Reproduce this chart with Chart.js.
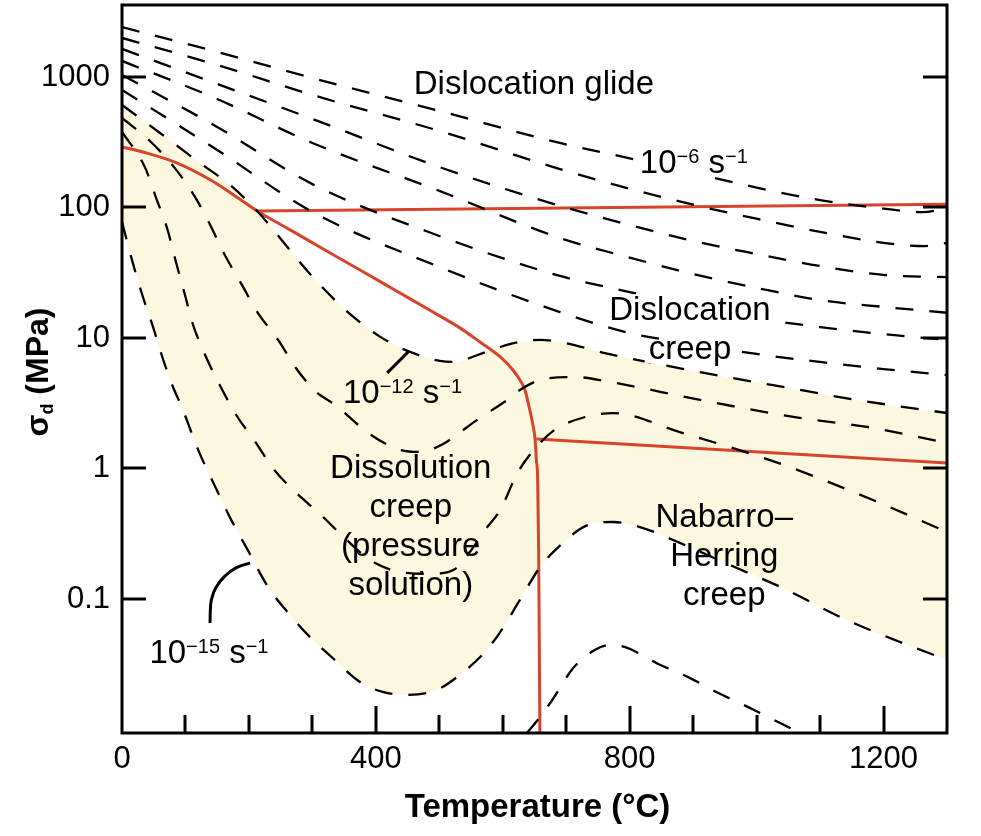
<!DOCTYPE html>
<html>
<head>
<meta charset="utf-8">
<script src="https://cdn.jsdelivr.net/npm/chart.js@4.4.1/dist/chart.umd.min.js"></script>
<style>
  html, body { margin: 0; padding: 0; background: #fff; }
</style>
</head>
<body>
<canvas id="chart" width="981" height="836"></canvas>
<script>
// ===== DEFORMATION MECHANISM MAP =====
// points are [temperature in °C, differential stress in MPa]

const xTicksMajor = [0, 400, 800, 1200];
const yTicks = [0.1, 1, 10, 100, 1000];
const yMin = 0.0094, yMax = 3560;

// strain-rate contours, 10^-6 ... 10^-16 s^-1
const rate6  = [[0,2415],[150,1556],[300,982],[500,549],[690,312],[800,238],[900,184],[1000,142],[1100,114],[1200,98],[1262,92],[1300,99]];
const rate7  = [[0,1991],[150,1236],[300,728],[500,386],[690,197],[800,139],[900,105],[1000,82],[1100,65],[1200,53.5],[1265,50.6],[1300,53.5]];
const rate8  = [[0,1640],[150,884],[300,477],[500,204],[690,103],[800,73.4],[900,55.4],[1000,44],[1100,35.6],[1200,30.4],[1300,29.3]];
const rate9  = [[0,1327],[150,678],[300,312],[500,134],[690,58.4],[800,41.3],[900,30.9],[1000,24.2],[1100,19.5],[1200,17.3],[1300,15.6]];
const rate10 = [[0,1036],[150,414],[300,151],[500,60.5],[690,29.9],[800,22.5],[900,17.6],[1000,14.2],[1100,12.1],[1200,10.7],[1300,9.66]];
const rate11 = [[0,795],[150,276],[300,92.4],[500,35],[690,15.8],[800,10.9],[900,9.0],[1000,7.54],[1100,6.55],[1200,5.78],[1300,5.2]];
const rate12 = [[0,610],[60,372],[123,219],[170,149],[213,94],[249,58.4],[280,38.2],[312,25.5],[359,15.3],[407,10.2],[454,7.82],[501,6.67],[525,6.55],[556,7.28],[596,8.53],[627,9.32],[659,9.66],[698,9.15],[761,7.67],[911,5.48],[1068,4.0],[1158,3.35],[1300,2.66]];
const rate13 = [[0,485],[44,323],[83,201],[118,114],[139,73.4],[162,43.2],[189,25.5],[214,15.6],[246,9.66],[274,5.89],[306,3.86],[336,3.07],[388,1.87],[438,1.39],[470,1.34],[506,1.54],[533,1.9],[564,2.44],[607,3.35],[627,4.0],[659,4.76],[714,5.02],[761,4.68],[911,3.35],[1068,2.44],[1174,2.08],[1300,1.57]];
const rate14 = [[0,379],[36,204],[55,114],[71,69.6],[85,38.2],[98,22.5],[112,12.6],[131,7.41],[154,4.36],[180,2.57],[208,1.65],[240,0.975],[273,0.661],[312,0.448],[351,0.293],[391,0.199],[438,0.161],[485,0.156],[525,0.17],[548,0.229],[572,0.338],[596,0.481],[624,0.94],[659,1.57],[684,2.01],[730,2.48],[774,2.66],[879,1.9],[1021,1.16],[1089,0.877],[1194,0.545],[1300,0.326]];
const rate15 = [[0,77.5],[17,37.6],[33,20.6],[49,12.1],[60,8.09],[76,4.76],[96,2.81],[120,1.39],[147,0.722],[173,0.396],[199,0.233],[230,0.124],[262,0.0782],[296,0.0512],[332,0.0353],[375,0.0231],[411,0.0194],[449,0.0184],[496,0.0201],[536,0.0271],[572,0.0393],[596,0.0558],[627,0.0983],[659,0.176],[695,0.269],[730,0.362],[774,0.389],[816,0.356],[879,0.269],[958,0.182],[1037,0.124],[1142,0.069],[1226,0.0468],[1300,0.0341]];
const rate16 = [[638,0.0094],[659,0.0125],[679,0.0171],[711,0.0296],[745,0.0406],[769,0.0444],[793,0.0428],[845,0.0318],[892,0.0252],[939,0.0191],[986,0.0149],[1034,0.0114],[1068,0.0094]];

// field boundaries (red)
const boundCurve = [[0,291],[33,266],[87,219],[139,163],[181,120],[213,94],[265,67.3],[317,48.1],[375,33.2],[438,22.1],[490,15.8],[533,11.9],[564,9.32],[596,7.15],[616,5.69],[627,4.76],[635,4.0],[640,3.18],[646,2.35],[651,1.65],[653,1.16],[655,0.817],[656.5,0.237],[657.5,0.0485],[658.5,0.0094]];
const boundGlide = [[213,94],[1300,106]];
const boundNH    = [[653,1.68],[1300,1.10]];

// leader lines for the contour labels
const leader12 = [[418,5.4],[451,7.82]];
const leader15 = [[138.7,0.0655],[139.2,0.0824],[141.8,0.102],[149.7,0.126],[162.3,0.15],[179.6,0.173],[201.7,0.189]];

// text on the map: anchor = [°C, MPa] of the first baseline (centre)
const notes = [
  { lines: ['Dislocation glide'], at: [649, 741] },
  { exp: '\u22126', at: [901, 184], knock: true },
  { lines: ['Dislocation', 'creep'], at: [895, 13.7], knock: true },
  { exp: '\u221212', at: [442, 3.18] },
  { lines: ['Dissolution', 'creep', '(pressure', 'solution)'], at: [455, 0.846] },
  { lines: ['Nabarro\u2013', 'Herring', 'creep'], at: [949, 0.356] },
  { exp: '\u221215', at: [137, 0.0323] }
];

const FONT = '"Liberation Sans", Arial, Helvetica, sans-serif';
const RED = '#d6442c';
const CREAM = '#fcf8e0';
const LINE_GAP = 39;

const pts = arr => arr.map(p => ({ x: p[0], y: p[1] }));

function dashed(arr, extra) {
  return Object.assign({
    data: pts(arr), borderColor: '#000', borderWidth: 2.3, borderDash: [18, 16],
    pointRadius: 0, cubicInterpolationMode: 'monotone', fill: false, knock: true
  }, extra || {});
}
function solid(arr, color, width, smooth) {
  return {
    data: pts(arr), borderColor: color, borderWidth: width, pointRadius: 0,
    cubicInterpolationMode: smooth ? 'monotone' : 'default', tension: 0, fill: false
  };
}

function font(sup, bold) { return (bold ? 'bold ' : '') + (sup ? 20 : 33) + 'px ' + FONT; }

function layoutNotes(chart) {
  const { ctx, scales: { x, y } } = chart;
  const out = [];
  ctx.save();
  notes.forEach(n => {
    const cx = x.getPixelForValue(n.at[0]);
    const by = y.getPixelForValue(n.at[1]);
    if (n.exp) {
      const parts = [['10', 0], [n.exp, 1], [' s', 0], ['\u22121', 1]];
      let w = 0;
      const widths = parts.map(p => { ctx.font = font(p[1]); const m = ctx.measureText(p[0]).width; w += m; return m; });
      out.push({ parts, widths, left: cx - w / 2, base: by, w, top: by - 26, bottom: by + 4, knock: n.knock });
    } else {
      ctx.font = font(0);
      n.lines.forEach((t, i) => {
        const b = by + i * LINE_GAP;
        const w = ctx.measureText(t).width;
        const tall = /[A-Z(bdhklt]/.test(t);
        out.push({ text: t, left: cx - w / 2, base: b, w, top: b - (tall ? 26 : 19), bottom: b + 4, knock: n.knock });
      });
    }
  });
  ctx.restore();
  return out;
}

const mapDecor = {
  id: 'mapDecor',
  beforeDatasetDraw(chart, args) {
    const ds = chart.data.datasets[args.index];
    if (!ds.knock) return;
    const ctx = chart.ctx;
    ctx.save();
    ctx.beginPath();
    ctx.rect(0, 0, chart.width, chart.height);
    layoutNotes(chart).filter(b => b.knock).forEach(b => {
      ctx.rect(b.left - 4, b.top, b.w + 8, b.bottom - b.top);
    });
    ctx.clip('evenodd');
  },
  afterDatasetDraw(chart, args) {
    if (chart.data.datasets[args.index].knock) chart.ctx.restore();
  },
  afterDatasetsDraw(chart) {
    const { ctx, chartArea: a, scales: { x, y } } = chart;
    ctx.save();
    ctx.fillStyle = '#000';
    ctx.textAlign = 'left';
    ctx.textBaseline = 'alphabetic';

    layoutNotes(chart).forEach(b => {
      if (b.parts) {
        let px = b.left;
        b.parts.forEach((p, i) => {
          ctx.font = font(p[1]);
          ctx.fillText(p[0], px, p[1] ? b.base - 10 : b.base);
          px += b.widths[i];
        });
      } else {
        ctx.font = font(0);
        ctx.fillText(b.text, b.left, b.base);
      }
    });

    // frame and inward ticks
    ctx.strokeStyle = '#000';
    ctx.lineWidth = 3;
    ctx.beginPath();
    x.ticks.forEach(t => {
      if (t.value <= x.min || t.value >= x.max) return;
      const px = Math.round(x.getPixelForValue(t.value));
      const len = xTicksMajor.includes(t.value) ? 27 : 18;
      ctx.moveTo(px, a.bottom); ctx.lineTo(px, a.bottom - len);
    });
    yTicks.forEach(v => {
      const py = Math.round(y.getPixelForValue(v));
      ctx.moveTo(a.left, py); ctx.lineTo(a.left + 24, py);
      ctx.moveTo(a.right, py); ctx.lineTo(a.right - 24, py);
    });
    ctx.stroke();
    ctx.strokeRect(a.left, a.top, a.right - a.left, a.bottom - a.top);

    // axis titles
    ctx.font = 'bold 33px ' + FONT;
    ctx.textAlign = 'center';
    ctx.fillText('Temperature (\u00B0C)', (a.left + a.right) / 2 + 3, 817);

    ctx.translate(48, (a.top + a.bottom) / 2 + 3);
    ctx.rotate(-Math.PI / 2);
    ctx.textAlign = 'left';
    const segs = [['\u03C3', 'bold 32px ', 0], ['d', 'bold 18px ', 5], [' (MPa)', 'bold 32px ', 0]];
    let total = 0;
    const ws = segs.map(s => { ctx.font = s[1] + FONT; const m = ctx.measureText(s[0]).width; total += m; return m; });
    let tx = -total / 2;
    segs.forEach((s, i) => { ctx.font = s[1] + FONT; ctx.fillText(s[0], tx, s[2]); tx += ws[i]; });
    ctx.restore();
  }
};

new Chart(document.getElementById('chart'), {
  type: 'line',
  data: {
    datasets: [
      dashed(rate6), dashed(rate7), dashed(rate8), dashed(rate9), dashed(rate10),
      dashed(rate11), dashed(rate12), dashed(rate13), dashed(rate14),
      dashed(rate15, { fill: 6, backgroundColor: CREAM }),
      dashed(rate16),
      solid(boundCurve, RED, 3, true),
      solid(boundGlide, RED, 3, false),
      solid(boundNH, RED, 3, false),
      solid(leader12, '#000', 3, false),
      solid(leader15, '#000', 3, true)
    ]
  },
  options: {
    responsive: false,
    animation: false,
    devicePixelRatio: 1,
    layout: { padding: { top: 5, right: 34, bottom: 0, left: 0 }, autoPadding: false },
    plugins: {
      legend: { display: false },
      tooltip: { enabled: false },
      filler: { drawTime: 'beforeDatasetsDraw' }
    },
    scales: {
      x: {
        type: 'linear', min: 0, max: 1300,
        grid: { display: false, drawTicks: false }, border: { display: false },
        ticks: {
          stepSize: 100, autoSkip: false, maxRotation: 0, padding: 8, color: '#000',
          font: { family: FONT, size: 31 },
          callback: v => xTicksMajor.includes(v) ? String(v) : ''
        },
        afterFit: s => { s.height = 103; s.paddingLeft = 0; s.paddingRight = 0; }
      },
      y: {
        type: 'logarithmic', min: yMin, max: yMax,
        grid: { display: false, drawTicks: false }, border: { display: false },
        ticks: { padding: 12, color: '#000', font: { family: FONT, size: 31 }, callback: v => String(v) },
        afterBuildTicks: s => { s.ticks = yTicks.map(v => ({ value: v })); },
        afterFit: s => { s.width = 122; s.paddingTop = 0; s.paddingBottom = 0; }
      }
    }
  },
  plugins: [mapDecor]
});
</script>
</body>
</html>
